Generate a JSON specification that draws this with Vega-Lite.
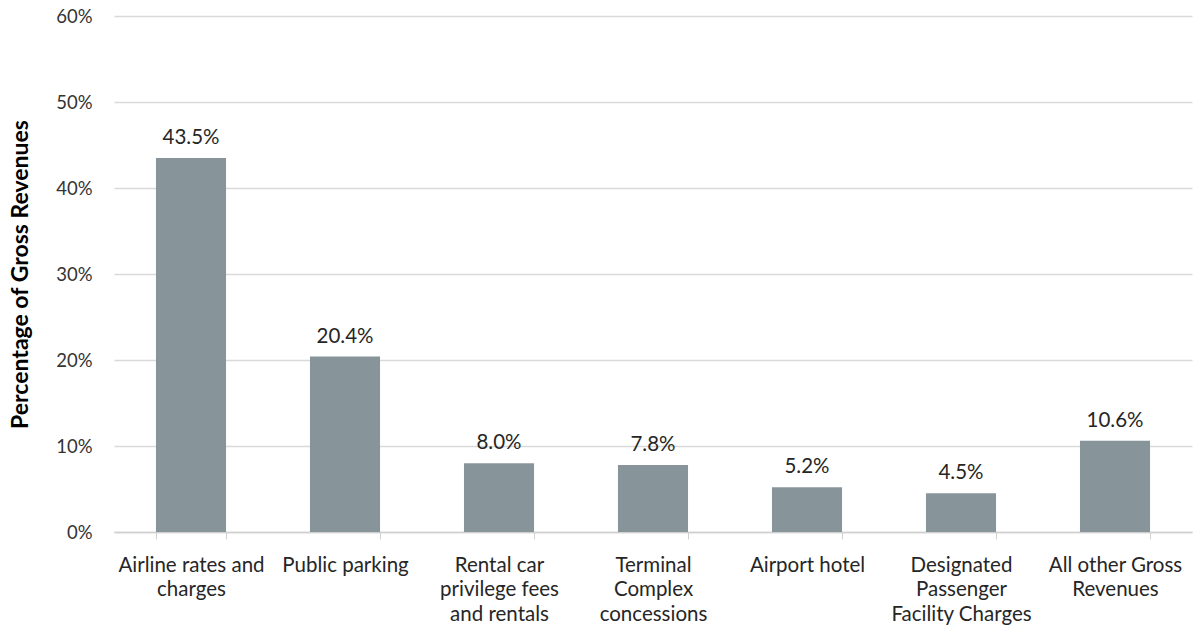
{
  "$schema": "https://vega.github.io/schema/vega-lite/v6.json",
  "width": 1078,
  "height": 516,
  "autosize": {"type": "none"},
  "padding": {"left": 114, "top": 16, "right": 1, "bottom": 101},
  "background": "white",
  "config": {
    "view": {"stroke": null},
    "font": "Lato",
    "axis": {"labelFont": "Lato", "titleFont": "Lato"}
  },
  "data": {
    "values": [
      {"category": "Airline rates and charges", "share": 0.435},
      {"category": "Public parking", "share": 0.204},
      {"category": "Rental car privilege fees and rentals", "share": 0.080},
      {"category": "Terminal Complex concessions", "share": 0.078},
      {"category": "Airport hotel", "share": 0.052},
      {"category": "Designated Passenger Facility Charges", "share": 0.045},
      {"category": "All other Gross Revenues", "share": 0.106}
    ]
  },
  "encoding": {
    "x": {
      "field": "category",
      "type": "nominal",
      "sort": null,
      "scale": {"paddingInner": 0.545, "paddingOuter": 0.2725},
      "axis": {
        "title": null,
        "labelAngle": 0,
        "labelFontSize": 20.5,
        "labelColor": "#262626",
        "labelPadding": 16,
        "labelLineHeight": 24.5,
        "labelBaseline": "top",
        "tickBand": "extent",
        "tickColor": "#d0d0d0",
        "tickSize": 7,
        "domainColor": "#d0d0d0",
        "domainWidth": 1.5,
        "labelExpr": "datum.value == 'Airline rates and charges' ? ['Airline rates and', 'charges'] : datum.value == 'Rental car privilege fees and rentals' ? ['Rental car', 'privilege fees', 'and rentals'] : datum.value == 'Terminal Complex concessions' ? ['Terminal', 'Complex', 'concessions'] : datum.value == 'Designated Passenger Facility Charges' ? ['Designated', 'Passenger', 'Facility Charges'] : datum.value == 'All other Gross Revenues' ? ['All other Gross', 'Revenues'] : datum.value"
      }
    },
    "y": {
      "field": "share",
      "type": "quantitative",
      "scale": {"domain": [0, 0.6]},
      "axis": {
        "title": "Percentage of Gross Revenues",
        "titleFontSize": 23,
        "titleFontWeight": "bold",
        "titleColor": "#000000",
        "titlePadding": 23,
        "format": ".0%",
        "values": [0, 0.1, 0.2, 0.3, 0.4, 0.5, 0.6],
        "labelFontSize": 18.5,
        "labelColor": "#333333",
        "labelPadding": 22,
        "ticks": false,
        "domain": false,
        "gridColor": "#d9d9d9",
        "gridWidth": 1.5
      }
    }
  },
  "layer": [
    {"mark": {"type": "bar", "color": "#87959b"}},
    {
      "mark": {"type": "text", "baseline": "alphabetic", "dy": -14, "fontSize": 20.5, "color": "#262626"},
      "encoding": {"text": {"field": "share", "type": "quantitative", "format": ".1%"}}
    }
  ]
}
